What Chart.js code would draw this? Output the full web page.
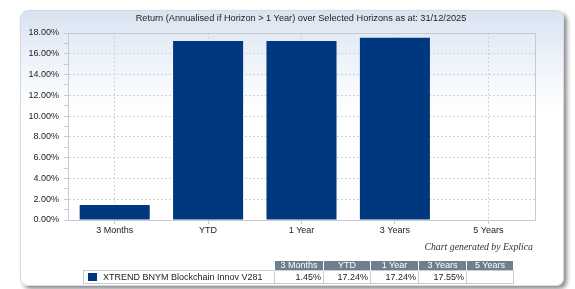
<!DOCTYPE html>
<html>
<head>
<meta charset="utf-8">
<script src="https://cdn.jsdelivr.net/npm/chart.js@4"></script>
<style>
    body { margin: 0; background: #fff; font-family: "Liberation Sans", Arial, sans-serif; }
    #wrap { position: relative; width: 575px; height: 289px; overflow: hidden; }
    #panel {
        position: absolute; left: 20px; top: 10px; width: 542px; height: 274px;
        border-radius: 8px; border: 1px solid #d6dbe3;
        background: linear-gradient(to bottom, #d9e3f1 0px, #eef3fa 50px, #ffffff 100px);
        box-shadow: 3px 3px 4px rgba(0,0,0,0.45);
    }
    canvas { position: absolute; left: 0; top: 0; }
    #titulo {
        position: absolute; left: 101px; width: 400px; top: 12px; text-align: center;
        font-size: 9.2px; line-height: 12px; color: #222; white-space: nowrap;
    }
    #credit {
        position: absolute; right: 42px; top: 241px;
        font: italic 9.8px "Liberation Serif", "DejaVu Serif", serif; color: #333;
    }
    #tabla { position: absolute; left: 83px; top: 261px; border-collapse: collapse; font-size: 9px; }
    #tabla td { padding: 0 2px; white-space: nowrap; }
    #tabla tr.cab td { background: #6f7f8e; color: #fff; text-align: center; height: 9px; line-height: 9px; border-left: 1px solid #fff; }
    #tabla tr.cab td.vacio { background: transparent; border: none; }
    #tabla tr.fila td { height: 12px; border: 1px solid #c9ccd0; text-align: right; color: #222; background: #fff; }
    #tabla tr.fila td.serie { text-align: left; width: 186px; }
    .cuadro { display: inline-block; width: 9px; height: 8px; background: #00387f; margin: 0 6px 0 2px; vertical-align: -1px; }
</style>
</head>
<body>
<div id="wrap">
    <div id="panel"></div>
    <canvas id="grafica" width="575" height="289"></canvas>
    <div id="titulo"></div>
    <div id="credit">Chart generated by Explica</div>
    <table id="tabla"></table>
</div>

<script>
// ============================
// DATOS
// ============================

const titulo = "Return (Annualised if Horizon > 1 Year) over Selected Horizons as at: 31/12/2025";
const horizontes = ["3 Months", "YTD", "1 Year", "3 Years", "5 Years"];
const rendimientos = [1.45, 17.24, 17.24, 17.55, null];
const nombreSerie = "XTREND BNYM Blockchain Innov V281";
const ejeMin = 0;
const ejeMax = 18;

const colorBarra = "#00387f";


// ============================
// TABLA
// ============================

function cargarTabla() {

    const tabla = document.getElementById("tabla");
    const colW = [44, 42, 43, 43, 42];

    const cab = horizontes.map((h, i) => `<td style="width:${colW[i]}px">${h}</td>`).join('');
    const vals = rendimientos.map(v => `<td>${v === null ? "" : v.toFixed(2) + "%"}</td>`).join('');

    tabla.innerHTML = `
        <tr class="cab"><td class="vacio"></td>${cab}</tr>
        <tr class="fila"><td class="serie"><span class="cuadro"></span>${nombreSerie}</td>${vals}</tr>
    `;
}

document.getElementById("titulo").textContent = titulo;
cargarTabla();


// ============================
// GRÁFICA
// ============================

// marco gris alrededor del área de trazado
const marco = {
    id: "marco",
    afterDatasetsDraw(chart) {
        const a = chart.chartArea;
        const ctx = chart.ctx;
        ctx.save();
        ctx.strokeStyle = "#c6cad3";
        ctx.lineWidth = 1;
        ctx.strokeRect(Math.round(a.left) + 0.5, Math.round(a.top) + 0.5,
            Math.round(a.right - a.left), Math.round(a.bottom - a.top));
        ctx.restore();
    }
};

Chart.defaults.font.family = '"Liberation Sans", Arial, sans-serif';
Chart.defaults.color = "#222";

const ctx = document.getElementById("grafica").getContext("2d");

new Chart(ctx, {
    type: "bar",
    data: {
        labels: horizontes,
        datasets: [{
            label: nombreSerie,
            data: rendimientos,
            backgroundColor: colorBarra,
            borderWidth: 0,
            barPercentage: 0.75,
            categoryPercentage: 1
        }]
    },
    options: {
        responsive: false,
        animation: false,
        layout: { padding: { left: 20, right: 40, top: 33, bottom: 49 } },
        plugins: {
            legend: { display: false },
            tooltip: { enabled: false }
        },
        scales: {
            x: {
                grid: {
                    offset: false,
                    color: "#d2d2d2",
                    tickLength: 4,
                    tickColor: "#c6cad3"
                },
                border: { color: "#c6cad3", dash: [2, 2] },
                ticks: { font: { size: 9 }, padding: 1 },
                afterFit(scale) { scale.height = 20; }
            },
            y: {
                min: ejeMin,
                max: ejeMax,
                grid: {
                    color: (c) => c.tick && c.tick.value % 2 === 0 ? "#d2d2d2" : "transparent",
                    tickColor: "#c6cad3",
                    tickBorderDash: [],
                    tickLength: 4
                },
                border: { color: "#c6cad3", dash: [2, 2] },
                ticks: {
                    stepSize: 1,
                    autoSkip: false,
                    font: { size: 9 },
                    padding: 5,
                    callback: (v) => v % 2 === 0 ? v.toFixed(2) + "%" : ""
                },
                afterFit(scale) { scale.width = 48; }
            }
        }
    },
    plugins: [marco]
});
</script>
</body>
</html>
